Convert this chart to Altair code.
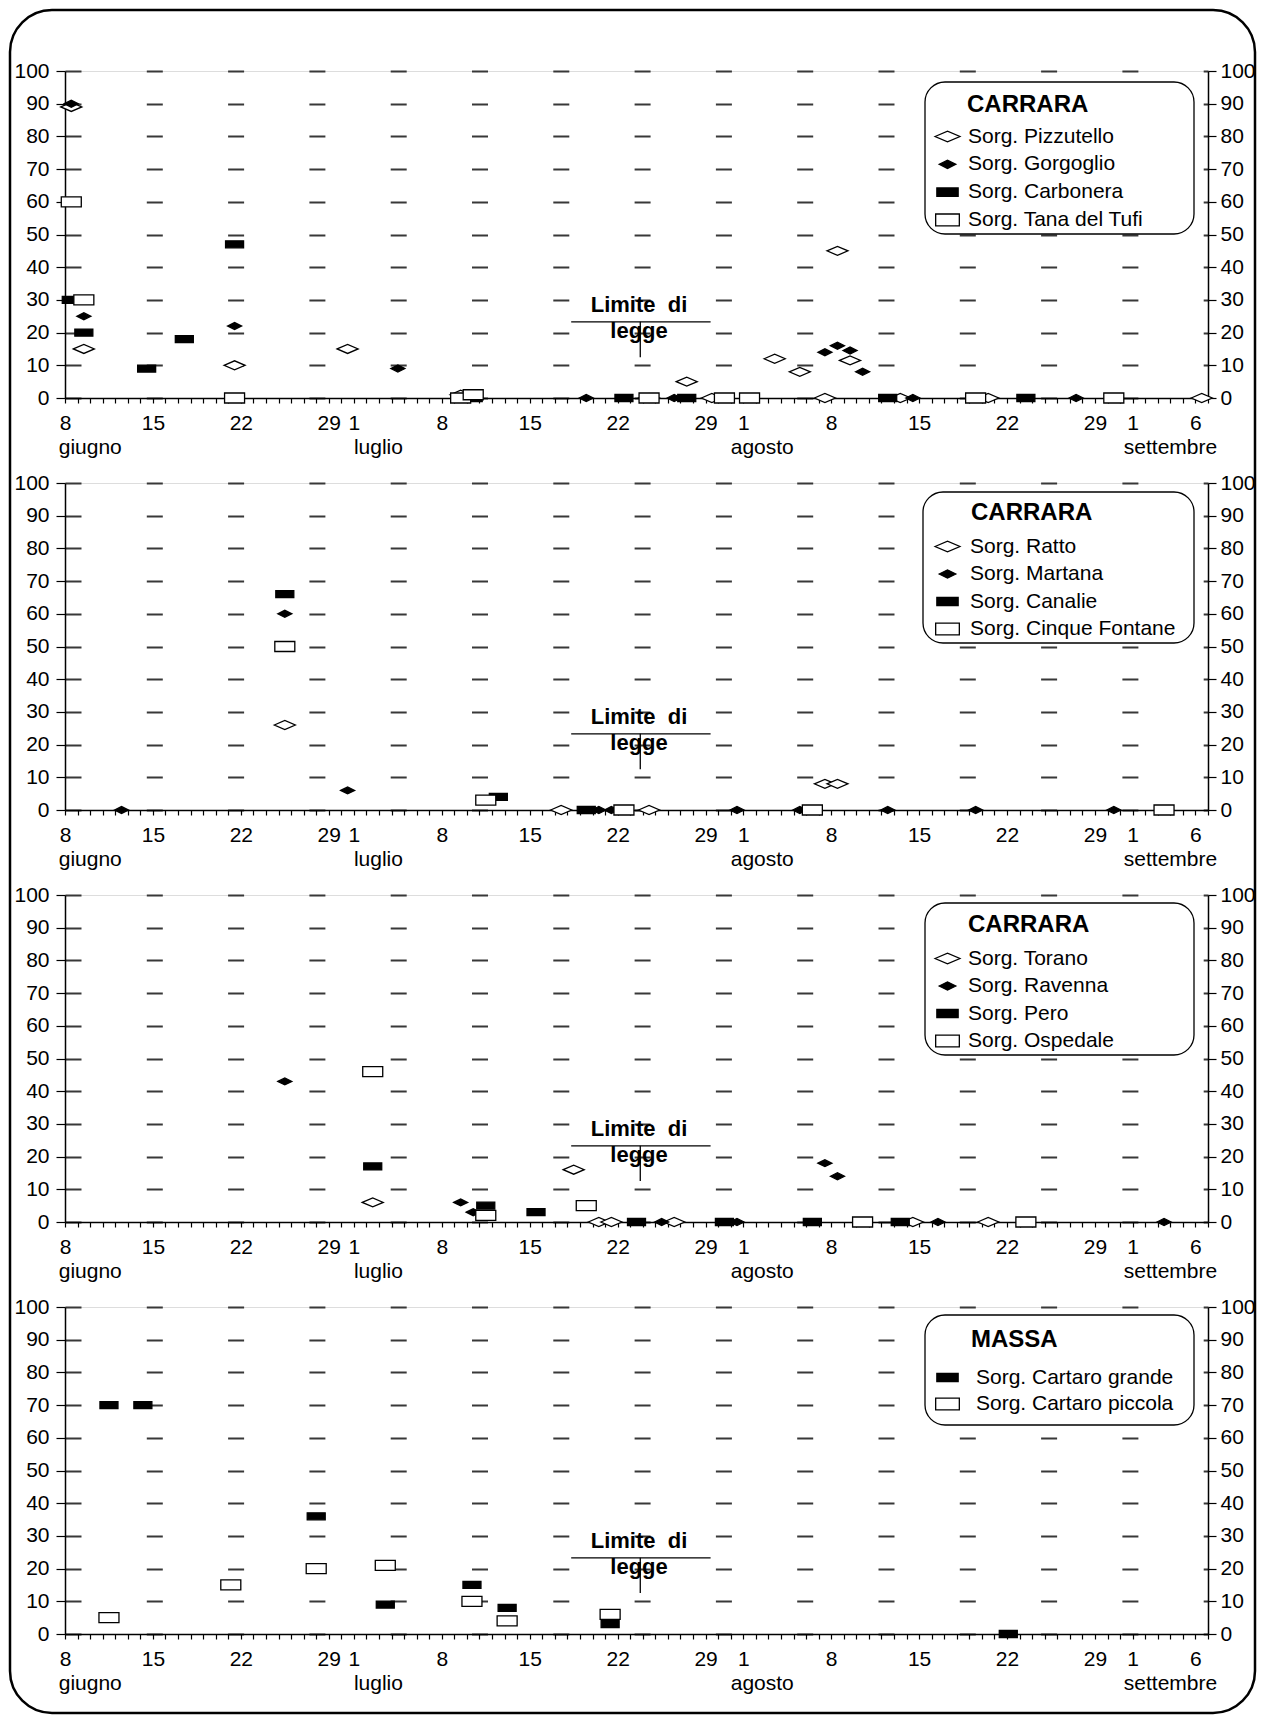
import altair as alt
import pandas as pd

FONT = "Liberation Sans"

# ---------------- dati (giorno = giorni dall'8 giugno) ----------------
# Pannello 1 - CARRARA
PIZZUTELLO_GIORNO = [0.5, 1.5, 13.5, 22.5, 31.5, 46.5, 49.5, 51.5, 56.5, 58.5, 60.5, 61.5, 62.5, 66.5, 73.5, 90.5]
PIZZUTELLO_VALORE = [89, 15, 10, 15, 1, 0, 5, 0, 12, 8, 0, 45, 11.5, 0, 0, 0]
GORGOGLIO_GIORNO = [0.5, 1.5, 13.5, 26.5, 41.5, 48.5, 60.5, 61.5, 62.5, 63.5, 67.5, 80.5]
GORGOGLIO_VALORE = [90, 25, 22, 9, 0, 0, 14, 16, 14.5, 8, 0, 0]
CARBONERA_GIORNO = [0.5, 1.5, 6.5, 9.5, 13.5, 32.5, 44.5, 49.5, 65.5, 76.5]
CARBONERA_VALORE = [30, 20, 9, 18, 47, 0, 0, 0, 0, 0]
TANA_GIORNO = [0.5, 1.5, 13.5, 31.5, 32.5, 46.5, 52.5, 54.5, 72.5, 83.5]
TANA_VALORE = [60, 30, 0, 0, 1, 0, 0, 0, 0, 0]

# Pannello 2 - CARRARA
RATTO_GIORNO = [17.5, 39.5, 46.5, 60.5, 61.5]
RATTO_VALORE = [26, 0, 0, 8, 8]
MARTANA_GIORNO = [4.5, 17.5, 22.5, 42.5, 43.5, 53.5, 58.5, 65.5, 72.5, 83.5]
MARTANA_VALORE = [0, 60, 6, 0, 0, 0, 0, 0, 0, 0]
CANALIE_GIORNO = [17.5, 34.5, 41.5]
CANALIE_VALORE = [66, 4, 0]
CINQUE_GIORNO = [17.5, 33.5, 44.5, 59.5, 87.5]
CINQUE_VALORE = [50, 3, 0, 0, 0]

# Pannello 3 - CARRARA
TORANO_GIORNO = [24.5, 40.5, 42.5, 43.5, 48.5, 67.5, 73.5]
TORANO_VALORE = [6, 16, 0, 0, 0, 0, 0]
RAVENNA_GIORNO = [17.5, 31.5, 32.5, 47.5, 53.5, 60.5, 61.5, 69.5, 87.5]
RAVENNA_VALORE = [43, 6, 3, 0, 0, 18, 14, 0, 0]
PERO_GIORNO = [24.5, 33.5, 37.5, 45.5, 52.5, 59.5, 66.5]
PERO_VALORE = [17, 5, 3, 0, 0, 0, 0]
OSPEDALE_GIORNO = [24.5, 33.5, 41.5, 63.5, 76.5]
OSPEDALE_VALORE = [46, 2, 5, 0, 0]

# Pannello 4 - MASSA
GRANDE_GIORNO = [3.5, 6.2, 20.0, 25.5, 32.4, 35.2, 43.4, 75.1]
GRANDE_VALORE = [70, 70, 36, 9, 15, 8, 3, 0]
PICCOLA_GIORNO = [3.5, 13.2, 20.0, 25.5, 32.4, 35.2, 43.4]
PICCOLA_VALORE = [5, 15, 20, 21, 10, 4, 6]

# etichette asse x
ETICHETTE_GIORNO = [0, 7, 14, 21, 23, 30, 37, 44, 51, 54, 61, 68, 75, 82, 85, 90]
ETICHETTE_TESTO = ["8", "15", "22", "29", "1", "8", "15", "22", "29", "1", "8", "15", "22", "29", "1", "6"]
MESI = ["giugno", "luglio", "agosto", "settembre"]
MESI_GIORNO = [-0.5, 23, 53, 84.3]

# annotazione "Limite di legge"
LIMITE_TESTO = ["Limite\u00a0 di", "legge"]
LIMITE_TESTO_GIORNO = [45.7, 45.7]
LIMITE_TESTO_VALORE = [28.5, 20.5]
LIMITE_X1 = [40.3, 45.8]
LIMITE_X2 = [51.4, 45.8]
LIMITE_Y1 = [23.3, 23.3]
LIMITE_Y2 = [23.3, 12.5]

# ---------------- stile ----------------
W, H = 1143, 327
STILI = {
    "diamante": ("M-2.1,0L0,-0.9L2.1,0L0,0.9Z", "white"),
    "diamante_pieno": ("M-1.4,0L0,-0.7L1.4,0L0,0.7Z", "black"),
    "rett_pieno": ("M-1.8,-0.7H1.8V0.7H-1.8Z", "black"),
    "rett": ("M-2,-1H2V1H-2Z", "white"),
}

PANNELLI = [
    dict(titolo="CARRARA", serie=[
        ("Sorg. Pizzutello", PIZZUTELLO_GIORNO, PIZZUTELLO_VALORE, "diamante"),
        ("Sorg. Gorgoglio", GORGOGLIO_GIORNO, GORGOGLIO_VALORE, "diamante_pieno"),
        ("Sorg. Carbonera", CARBONERA_GIORNO, CARBONERA_VALORE, "rett_pieno"),
        ("Sorg. Tana del Tufi", TANA_GIORNO, TANA_VALORE, "rett")],
        box=(860, 1129, 11, 163), tx=902, ty=34, ly=55, rpad=5.8, loff=10),
    dict(titolo="CARRARA", serie=[
        ("Sorg. Ratto", RATTO_GIORNO, RATTO_VALORE, "diamante"),
        ("Sorg. Martana", MARTANA_GIORNO, MARTANA_VALORE, "diamante_pieno"),
        ("Sorg. Canalie", CANALIE_GIORNO, CANALIE_VALORE, "rett_pieno"),
        ("Sorg. Cinque Fontane", CINQUE_GIORNO, CINQUE_VALORE, "rett")],
        box=(858, 1129, 9, 160), tx=906, ty=30, ly=53, rpad=5.5, loff=12),
    dict(titolo="CARRARA", serie=[
        ("Sorg. Torano", TORANO_GIORNO, TORANO_VALORE, "diamante"),
        ("Sorg. Ravenna", RAVENNA_GIORNO, RAVENNA_VALORE, "diamante_pieno"),
        ("Sorg. Pero", PERO_GIORNO, PERO_VALORE, "rett_pieno"),
        ("Sorg. Ospedale", OSPEDALE_GIORNO, OSPEDALE_VALORE, "rett")],
        box=(860, 1129, 8, 160), tx=903, ty=30, ly=53, rpad=5.5, loff=10),
    dict(titolo="MASSA", serie=[
        ("Sorg. Cartaro grande", GRANDE_GIORNO, GRANDE_VALORE, "rett_pieno"),
        ("Sorg. Cartaro piccola", PICCOLA_GIORNO, PICCOLA_VALORE, "rett")],
        box=(860, 1129, 8, 118), tx=906, ty=33, ly=60, rpad=4.5, loff=18),
]

ex_g = "[" + ",".join(str(g) for g in ETICHETTE_GIORNO) + "]"
ex_t = "[" + ",".join(f"'{t}'" for t in ETICHETTE_TESTO) + "]"
LABEL_EXPR = f"indexof({ex_g}, datum.value) >= 0 ? {ex_t}[indexof({ex_g}, datum.value)] : ''"

XSCALE = alt.Scale(domain=[0, 91], nice=False, zero=False)
YSCALE = alt.Scale(domain=[0, 100], nice=False, zero=True)

XAXIS = alt.Axis(values=list(range(0, 92)), labelExpr=LABEL_EXPR, title=None, grid=False,
                 tickSize=5, tickColor="black", tickWidth=1.2, domainColor="black",
                 domainWidth=1.5, labelFontSize=21, labelColor="black", labelFont=FONT,
                 labelPadding=9, labelFlush=False, labelOverlap=False, labelBound=False)
YLEFT = alt.Axis(values=list(range(0, 101, 10)), orient="left", title=None, tickSize=9,
                 tickColor="black", tickWidth=1.2, domainColor="black", domainWidth=1.5,
                 labelFontSize=21, labelColor="black", labelFont=FONT, labelPadding=7,
                 grid=True, gridDash=[16, 65.3], gridColor="#383838", gridWidth=2)
YRIGHT = alt.Axis(values=list(range(0, 101, 10)), orient="right", title=None, tickSize=8,
                  tickColor="black", tickWidth=1.2, domainColor="black", domainWidth=1.5,
                  labelFontSize=21, labelColor="black", labelFont=FONT, labelPadding=4,
                  grid=False)


def xenc(field):
    return alt.X(f"{field}:Q", scale=XSCALE, axis=XAXIS)


uno = pd.DataFrame({"k": [0]})


def pannello(p, cornice=False):
    righe = []
    for nome, gg, vv, stile in p["serie"]:
        for g, v in zip(gg, vv):
            righe.append({"giorno": g, "valore": v, "serie": nome})
    df = pd.DataFrame(righe)
    nomi = [s[0] for s in p["serie"]]
    forme = [STILI[s[3]][0] for s in p["serie"]]
    riemp = [STILI[s[3]][1] for s in p["serie"]]

    legenda = alt.Legend(
        orient="none", legendX=872, legendY=p["ly"], title=None,
        labelFontSize=21, labelColor="black", labelFont=FONT, labelOffset=p["loff"],
        labelLimit=400, symbolSize=140, symbolStrokeWidth=1.3,
        rowPadding=p["rpad"], padding=0, zindex=1,
    )

    strati = []
    if cornice:
        strati.append(alt.Chart(uno).mark_rect(
            fill="transparent", stroke="black", strokeWidth=2.5, cornerRadius=42
        ).encode(x=alt.value(-55), x2=alt.value(1190), y=alt.value(-61), y2=alt.value(1642)))

    bx = p["box"]
    strati.append(alt.Chart(uno).mark_rect(
        fill="white", stroke="black", strokeWidth=1.3, cornerRadius=20
    ).encode(x=alt.value(bx[0]), x2=alt.value(bx[1]), y=alt.value(bx[2]), y2=alt.value(bx[3])))

    strati.append(alt.Chart(pd.DataFrame({"t": [p["titolo"]]})).mark_text(
        font=FONT, fontSize=24, fontWeight="bold", color="black", align="left", baseline="middle"
    ).encode(x=alt.value(p["tx"]), y=alt.value(p["ty"]), text="t:N"))

    strati.append(alt.Chart(df).mark_point(strokeWidth=1.3, opacity=1, size=100).encode(
        x=xenc("giorno"),
        y=alt.Y("valore:Q", scale=YSCALE, axis=YLEFT),
        shape=alt.Shape("serie:N", scale=alt.Scale(domain=nomi, range=forme), legend=legenda),
        fill=alt.Fill("serie:N", scale=alt.Scale(domain=nomi, range=riemp), legend=legenda),
        stroke=alt.Stroke("serie:N", scale=alt.Scale(domain=nomi, range=["black"] * len(nomi)),
                          legend=legenda),
    ))

    dfr = pd.DataFrame({"x1": LIMITE_X1, "x2": LIMITE_X2, "y1": LIMITE_Y1, "y2": LIMITE_Y2})
    strati.append(alt.Chart(dfr).mark_rule(color="black", strokeWidth=1.3).encode(
        x=xenc("x1"), x2="x2:Q",
        y=alt.Y("y1:Q", scale=YSCALE, axis=YRIGHT), y2="y2:Q"))

    dft = pd.DataFrame({"giorno": LIMITE_TESTO_GIORNO, "valore": LIMITE_TESTO_VALORE, "testo": LIMITE_TESTO})
    strati.append(alt.Chart(dft).mark_text(
        font=FONT, fontSize=22, fontWeight="bold", color="black", align="center", baseline="middle"
    ).encode(x=xenc("giorno"), y=alt.Y("valore:Q", scale=YSCALE, axis=None), text="testo:N"))

    dfm = pd.DataFrame({"giorno": MESI_GIORNO, "mese": MESI})
    strati.append(alt.Chart(dfm).mark_text(
        font=FONT, fontSize=21, color="black", align="left", baseline="alphabetic"
    ).encode(x=xenc("giorno"), y=alt.value(H + 56), text="mese:N"))

    return alt.layer(*strati).resolve_scale(y="independent").properties(width=W, height=H)


chart = alt.vconcat(
    *[pannello(p, cornice=(i == 0)) for i, p in enumerate(PANNELLI)],
    spacing=85, bounds="flush"
).resolve_scale(shape="independent", fill="independent", stroke="independent").properties(
    padding=0
).configure_view(strokeWidth=0).configure(font=FONT)

chart.save("out.html", embed_options={"renderer": "svg", "actions": False})
